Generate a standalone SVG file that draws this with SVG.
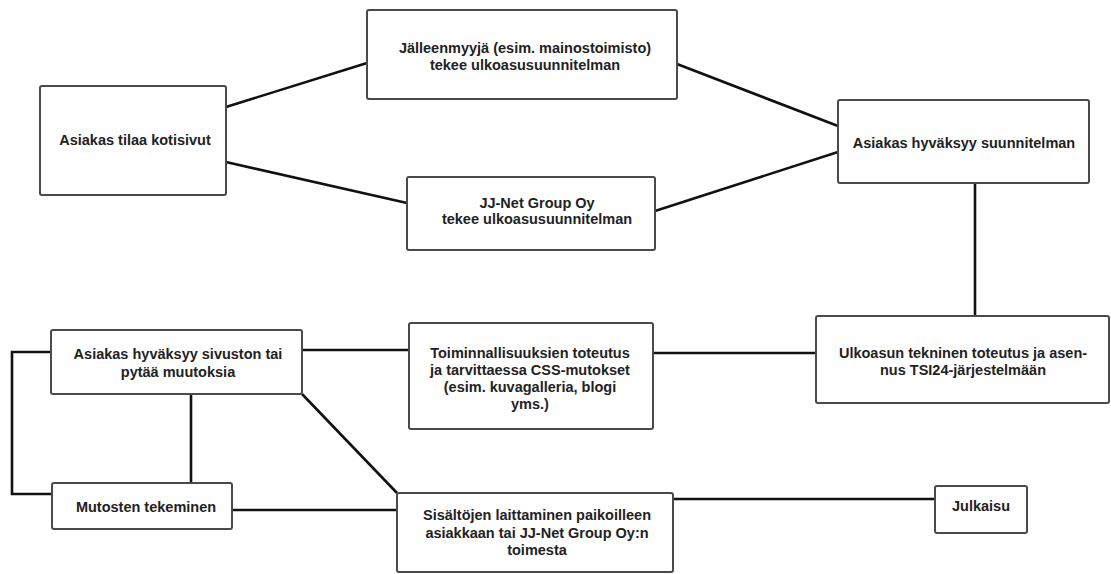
<svg xmlns="http://www.w3.org/2000/svg" width="1111" height="574" viewBox="0 0 1111 574">
<style>
.box{fill:#fff;stroke:#4a4a4a;stroke-width:2}
.lbl{font-family:"Liberation Sans",Arial,sans-serif;font-weight:bold;font-size:14.5px;fill:#222;text-anchor:middle}
.c{fill:none;stroke:#111;stroke-width:2.6;stroke-linejoin:miter}
</style>
<rect width="1111" height="574" fill="#fff"/>
<g id="connectors">
<line class="c" x1="226" y1="107" x2="367" y2="63"/>
<line class="c" x1="226" y1="162" x2="407" y2="203"/>
<line class="c" x1="677" y1="64" x2="838" y2="126"/>
<line class="c" x1="655" y1="211" x2="838" y2="152"/>
<line class="c" x1="975" y1="183" x2="975" y2="316"/>
<line class="c" x1="653" y1="353" x2="816" y2="353"/>
<line class="c" x1="302" y1="350" x2="409" y2="350"/>
<polyline class="c" points="51,352 12,352 12,494 52,494"/>
<line class="c" x1="191" y1="394" x2="191" y2="483"/>
<line class="c" x1="302" y1="394" x2="397" y2="493"/>
<line class="c" x1="232" y1="510" x2="397" y2="510"/>
<line class="c" x1="673" y1="499" x2="935" y2="499"/>
</g>
<g id="n1"><rect class="box" x="40" y="86" width="186" height="109" rx="2"/>
<text class="lbl" x="135" y="145">Asiakas tilaa kotisivut</text></g>
<g id="n2"><rect class="box" x="367" y="10" width="310" height="89" rx="2"/>
<text class="lbl" x="525" y="53">Jälleenmyyjä (esim. mainostoimisto)</text>
<text class="lbl" x="525" y="70">tekee ulkoasusuunnitelman</text></g>
<g id="n3"><rect class="box" x="407" y="177" width="248" height="73" rx="2"/>
<text class="lbl" x="537" y="208">JJ-Net Group Oy</text>
<text class="lbl" x="537" y="224">tekee ulkoasusuunnitelman</text></g>
<g id="n4"><rect class="box" x="838" y="100" width="251" height="83" rx="2"/>
<text class="lbl" x="964" y="148">Asiakas hyväksyy suunnitelman</text></g>
<g id="n5"><rect class="box" x="816" y="316" width="293" height="87" rx="2"/>
<text class="lbl" x="963" y="358">Ulkoasun tekninen toteutus ja asen-</text>
<text class="lbl" x="963" y="375">nus TSI24-järjestelmään</text></g>
<g id="n6"><rect class="box" x="409" y="323" width="244" height="106" rx="2"/>
<text class="lbl" x="530" y="358">Toiminnallisuuksien toteutus</text>
<text class="lbl" x="530" y="375">ja tarvittaessa CSS-mutokset</text>
<text class="lbl" x="530" y="392">(esim. kuvagalleria, blogi</text>
<text class="lbl" x="530" y="409">yms.)</text></g>
<g id="n7"><rect class="box" x="51" y="330" width="251" height="64" rx="2"/>
<text class="lbl" x="178" y="359">Asiakas hyväksyy sivuston tai</text>
<text class="lbl" x="178" y="377">pytää muutoksia</text></g>
<g id="n8"><rect class="box" x="52" y="483" width="180" height="46" rx="2"/>
<text class="lbl" x="146" y="512">Mutosten tekeminen</text></g>
<g id="n9"><rect class="box" x="397" y="493" width="276" height="79" rx="2"/>
<text class="lbl" x="537" y="520">Sisältöjen laittaminen paikoilleen</text>
<text class="lbl" x="537" y="538">asiakkaan tai JJ-Net Group Oy:n</text>
<text class="lbl" x="537" y="555">toimesta</text></g>
<g id="n10"><rect class="box" x="935" y="486" width="92" height="47" rx="2"/>
<text class="lbl" x="981" y="511">Julkaisu</text></g>
</svg>
